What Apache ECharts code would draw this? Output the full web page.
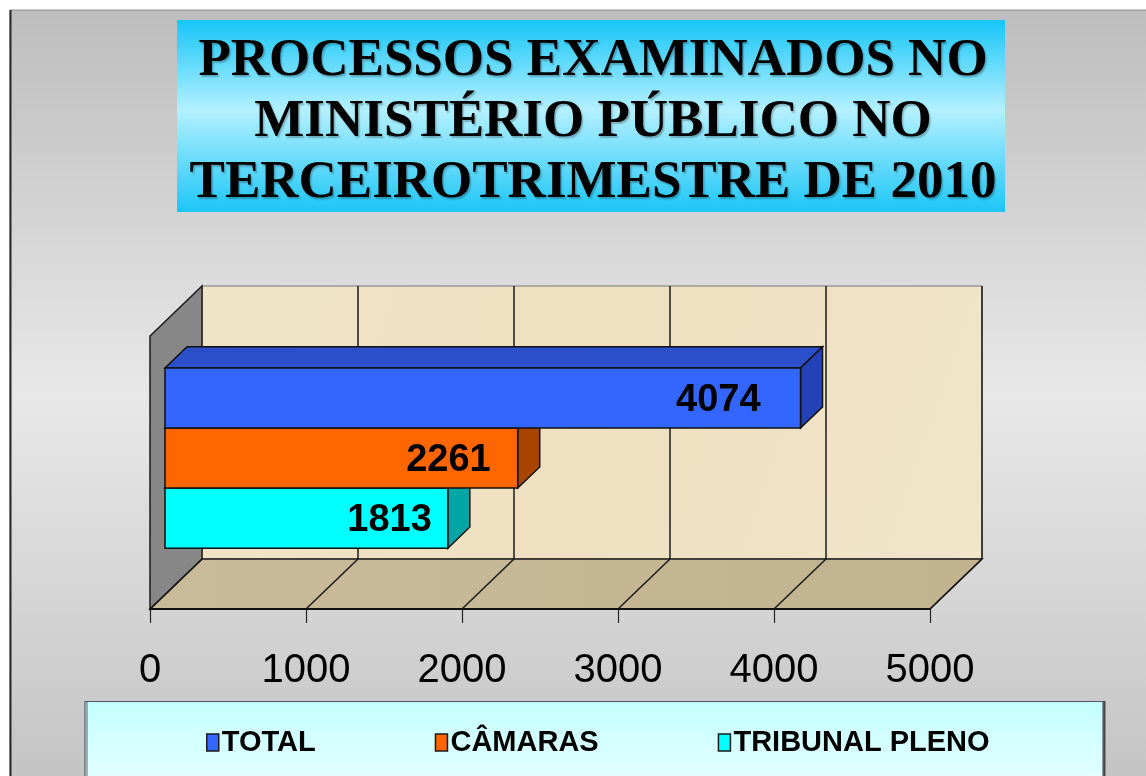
<!DOCTYPE html>
<html>
<head>
<meta charset="utf-8">
<script src="https://cdn.jsdelivr.net/npm/echarts@6/dist/echarts.min.js"></script>
<style>html,body{margin:0;padding:0;background:#fff}#chart{width:1146px;height:776px}</style>
</head>
<body>
<div id="chart"></div>
<script>
// ---- data ----
const categories = ['3º trimestre 2010'];
const seriesNames = ['TOTAL', 'CÂMARAS', 'TRIBUNAL PLENO'];
const totalValues = [4074];
const camarasValues = [2261];
const tribunalValues = [1813];
const axisMin = 0, axisMax = 5000, axisStep = 1000;
const titleLines = ['PROCESSOS EXAMINADOS NO', 'MINISTÉRIO PÚBLICO NO', 'TERCEIROTRIMESTRE DE 2010'];

// ---- style constants ----
const DX = 52, DY = -50;             // depth offset of back wall
const BAR_FRONT = 15 / 52, BAR_BACK = 37 / 52;
const BAR_GAP = 0.34;
const seriesStyles = [
  { front: '#3366ff', top: '#2b4fc9', side: '#2442b8', inset: 40 },
  { front: '#ff6600', top: '#c44e00', side: '#a84400', inset: 27 },
  { front: '#00ffff', top: '#00c8c8', side: '#00a5a5', inset: 16 }
];
const seriesValues = [totalValues, camarasValues, tribunalValues];

const chart = echarts.init(document.getElementById('chart'));

function wallsRender(params, api) {
  const cs = params.coordSys;
  const L = cs.x, R = cs.x + cs.width, T = cs.y, B = cs.y + cs.height;
  const children = [];
  const line = '#1a1a1a';
  // back wall
  children.push({ type: 'polygon', shape: { points: [[L + DX, T + DY], [R + DX, T + DY], [R + DX, B + DY], [L + DX, B + DY]] },
    style: { fill: new echarts.graphic.LinearGradient(0, 0, 1, 1, [
      { offset: 0, color: '#f0e4c8' }, { offset: 0.5, color: '#eee0c0' }, { offset: 1, color: '#f1e5ca' }]), stroke: '#777', lineWidth: 1 } });
  // floor
  children.push({ type: 'polygon', shape: { points: [[L, B], [R, B], [R + DX, B + DY], [L + DX, B + DY]] },
    style: { fill: new echarts.graphic.LinearGradient(0, 0, 1, 0, [
      { offset: 0, color: '#c9bb9a' }, { offset: 1, color: '#c2b38f' }]), stroke: line, lineWidth: 1.5 } });
  // left wall
  children.push({ type: 'polygon', shape: { points: [[L, B], [L, T], [L + DX, T + DY], [L + DX, B + DY]] },
    style: { fill: '#878787', stroke: line, lineWidth: 1.5 } });
  // gridlines from axis ticks
  for (let v = axisMin; v <= axisMax; v += axisStep) {
    const p = api.coord([v, 0]);
    const x = p[0];
    children.push({ type: 'line', shape: { x1: x, y1: B, x2: x + DX, y2: B + DY }, style: { stroke: line, lineWidth: 1.5 } });
    if (v > axisMin) {
      children.push({ type: 'line', shape: { x1: x + DX, y1: T + DY, x2: x + DX, y2: B + DY }, style: { stroke: line, lineWidth: 1.5 } });
    }
  }
  return { type: 'group', children };
}

function barRender(idx) {
  return function (params, api) {
    const val = api.value(0), cat = api.value(1);
    const p0 = api.coord([0, cat]);
    const p1 = api.coord([val, cat]);
    const band = api.size([0, 1])[1];
    const bh = band * (1 - BAR_GAP) / 3;
    const st = seriesStyles[idx];
    const fx = BAR_FRONT * DX, fy = BAR_FRONT * DY;
    const ddx = (BAR_BACK - BAR_FRONT) * DX, ddy = (BAR_BACK - BAR_FRONT) * DY;
    const x0 = p0[0] + fx, x1 = p1[0] + fx;
    const y0 = p0[1] - 1.5 * bh + idx * bh + fy, y1 = y0 + bh;
    const stroke = '#111';
    return {
      type: 'group',
      children: [
        { type: 'polygon', shape: { points: [[x0, y0], [x1, y0], [x1 + ddx, y0 + ddy], [x0 + ddx, y0 + ddy]] },
          style: { fill: st.top, stroke, lineWidth: 1.5 } },
        { type: 'polygon', shape: { points: [[x1, y0], [x1 + ddx, y0 + ddy], [x1 + ddx, y1 + ddy], [x1, y1]] },
          style: { fill: st.side, stroke, lineWidth: 1.5 } },
        { type: 'rect', shape: { x: x0, y: y0, width: x1 - x0, height: bh },
          style: { fill: st.front, stroke, lineWidth: 1.5 } },
        { type: 'text', x: x1 - st.inset, y: (y0 + y1) / 2 + 2,
          style: { text: String(val), fill: '#000', font: 'bold 38px "Liberation Sans", Arial, sans-serif', align: 'right', verticalAlign: 'middle' } }
      ]
    };
  };
}

const series = [{
  type: 'custom', name: '__walls', silent: true, z: 1,
  renderItem: wallsRender, data: [[0, 0]], tooltip: { show: false }
}];
seriesNames.forEach((name, i) => {
  series.push({
    type: 'custom', name, z: 5 - i,
    itemStyle: { color: seriesStyles[i].front },
    renderItem: barRender(i),
    encode: { x: 0, y: 1 },
    data: seriesValues[i].map((v, ci) => [v, ci])
  });
});

const option = {
  backgroundColor: '#ffffff',
  animation: false,
  graphic: [
    { type: 'rect', z: -10, shape: { x: 10, y: 10, width: 1140, height: 770 },
      style: { fill: new echarts.graphic.LinearGradient(0, 0, 0, 1, [
        { offset: 0, color: '#bdbdbd' }, { offset: 0.5, color: '#e8e8e8' }, { offset: 1, color: '#c4c4c4' }]), stroke: '#8a8a8a', lineWidth: 1 } },
    { type: 'line', z: -9, shape: { x1: 10.5, y1: 10, x2: 10.5, y2: 776 }, style: { stroke: '#2a2a2a', lineWidth: 2 } },
    { type: 'rect', z: -5, shape: { x: 177, y: 20, width: 828, height: 192 },
      style: { fill: new echarts.graphic.LinearGradient(0, 0, 0, 1, [
        { offset: 0, color: '#16c6f8' }, { offset: 0.47, color: '#b4f0ff' }, { offset: 1, color: '#1cc6f6' }]) } },
    { type: 'rect', z: -5, shape: { x: 85, y: 701.5, width: 1018, height: 90 },
      style: { fill: new echarts.graphic.LinearGradient(0, 0, 0, 1, [
        { offset: 0, color: '#c4ffff' }, { offset: 1, color: '#e8ffff' }]), stroke: '#556', lineWidth: 1.2,
        shadowColor: 'rgba(0,0,0,0.5)', shadowOffsetX: 2, shadowOffsetY: 0, shadowBlur: 0 } }
  ],
  title: {
    text: titleLines.join('\n'),
    left: 588, top: 26, textAlign: 'center',
    textStyle: {
      fontFamily: '"Liberation Serif", "Times New Roman", serif', fontWeight: 'bold', fontSize: 53, lineHeight: 61, color: '#000',
      textShadowColor: 'rgba(0,0,0,0.25)', textShadowOffsetX: 1.5, textShadowOffsetY: 1.5, textShadowBlur: 1.5
    }
  },
  legend: {
    data: seriesNames,
    left: 201, top: 723,
    icon: 'rect', itemWidth: 12, itemHeight: 17, itemGap: 119,
    itemStyle: { borderColor: '#1a1a1a', borderWidth: 1.5 },
    textStyle: { fontFamily: '"Liberation Sans", Arial, sans-serif', fontWeight: 'bold', fontSize: 29, color: '#000', padding: [0, 0, 0, -2] }
  },
  grid: { left: 150, right: 216, top: 336, bottom: 167, containLabel: false },
  xAxis: {
    type: 'value', min: axisMin, max: axisMax, interval: axisStep, z: 10,
    axisLine: { show: true, lineStyle: { color: '#111', width: 2 } },
    axisTick: { show: true, length: 14, lineStyle: { color: '#222', width: 1.2 } },
    axisLabel: { margin: 42, fontSize: 40, color: '#000', fontFamily: '"Liberation Sans", Arial, sans-serif',
      formatter: v => String(v) },
    splitLine: { show: false }
  },
  yAxis: {
    type: 'category', data: categories, inverse: true,
    axisLine: { show: false }, axisTick: { show: false }, axisLabel: { show: false }, splitLine: { show: false }
  },
  series
};
chart.setOption(option);
</script>
</body>
</html>
